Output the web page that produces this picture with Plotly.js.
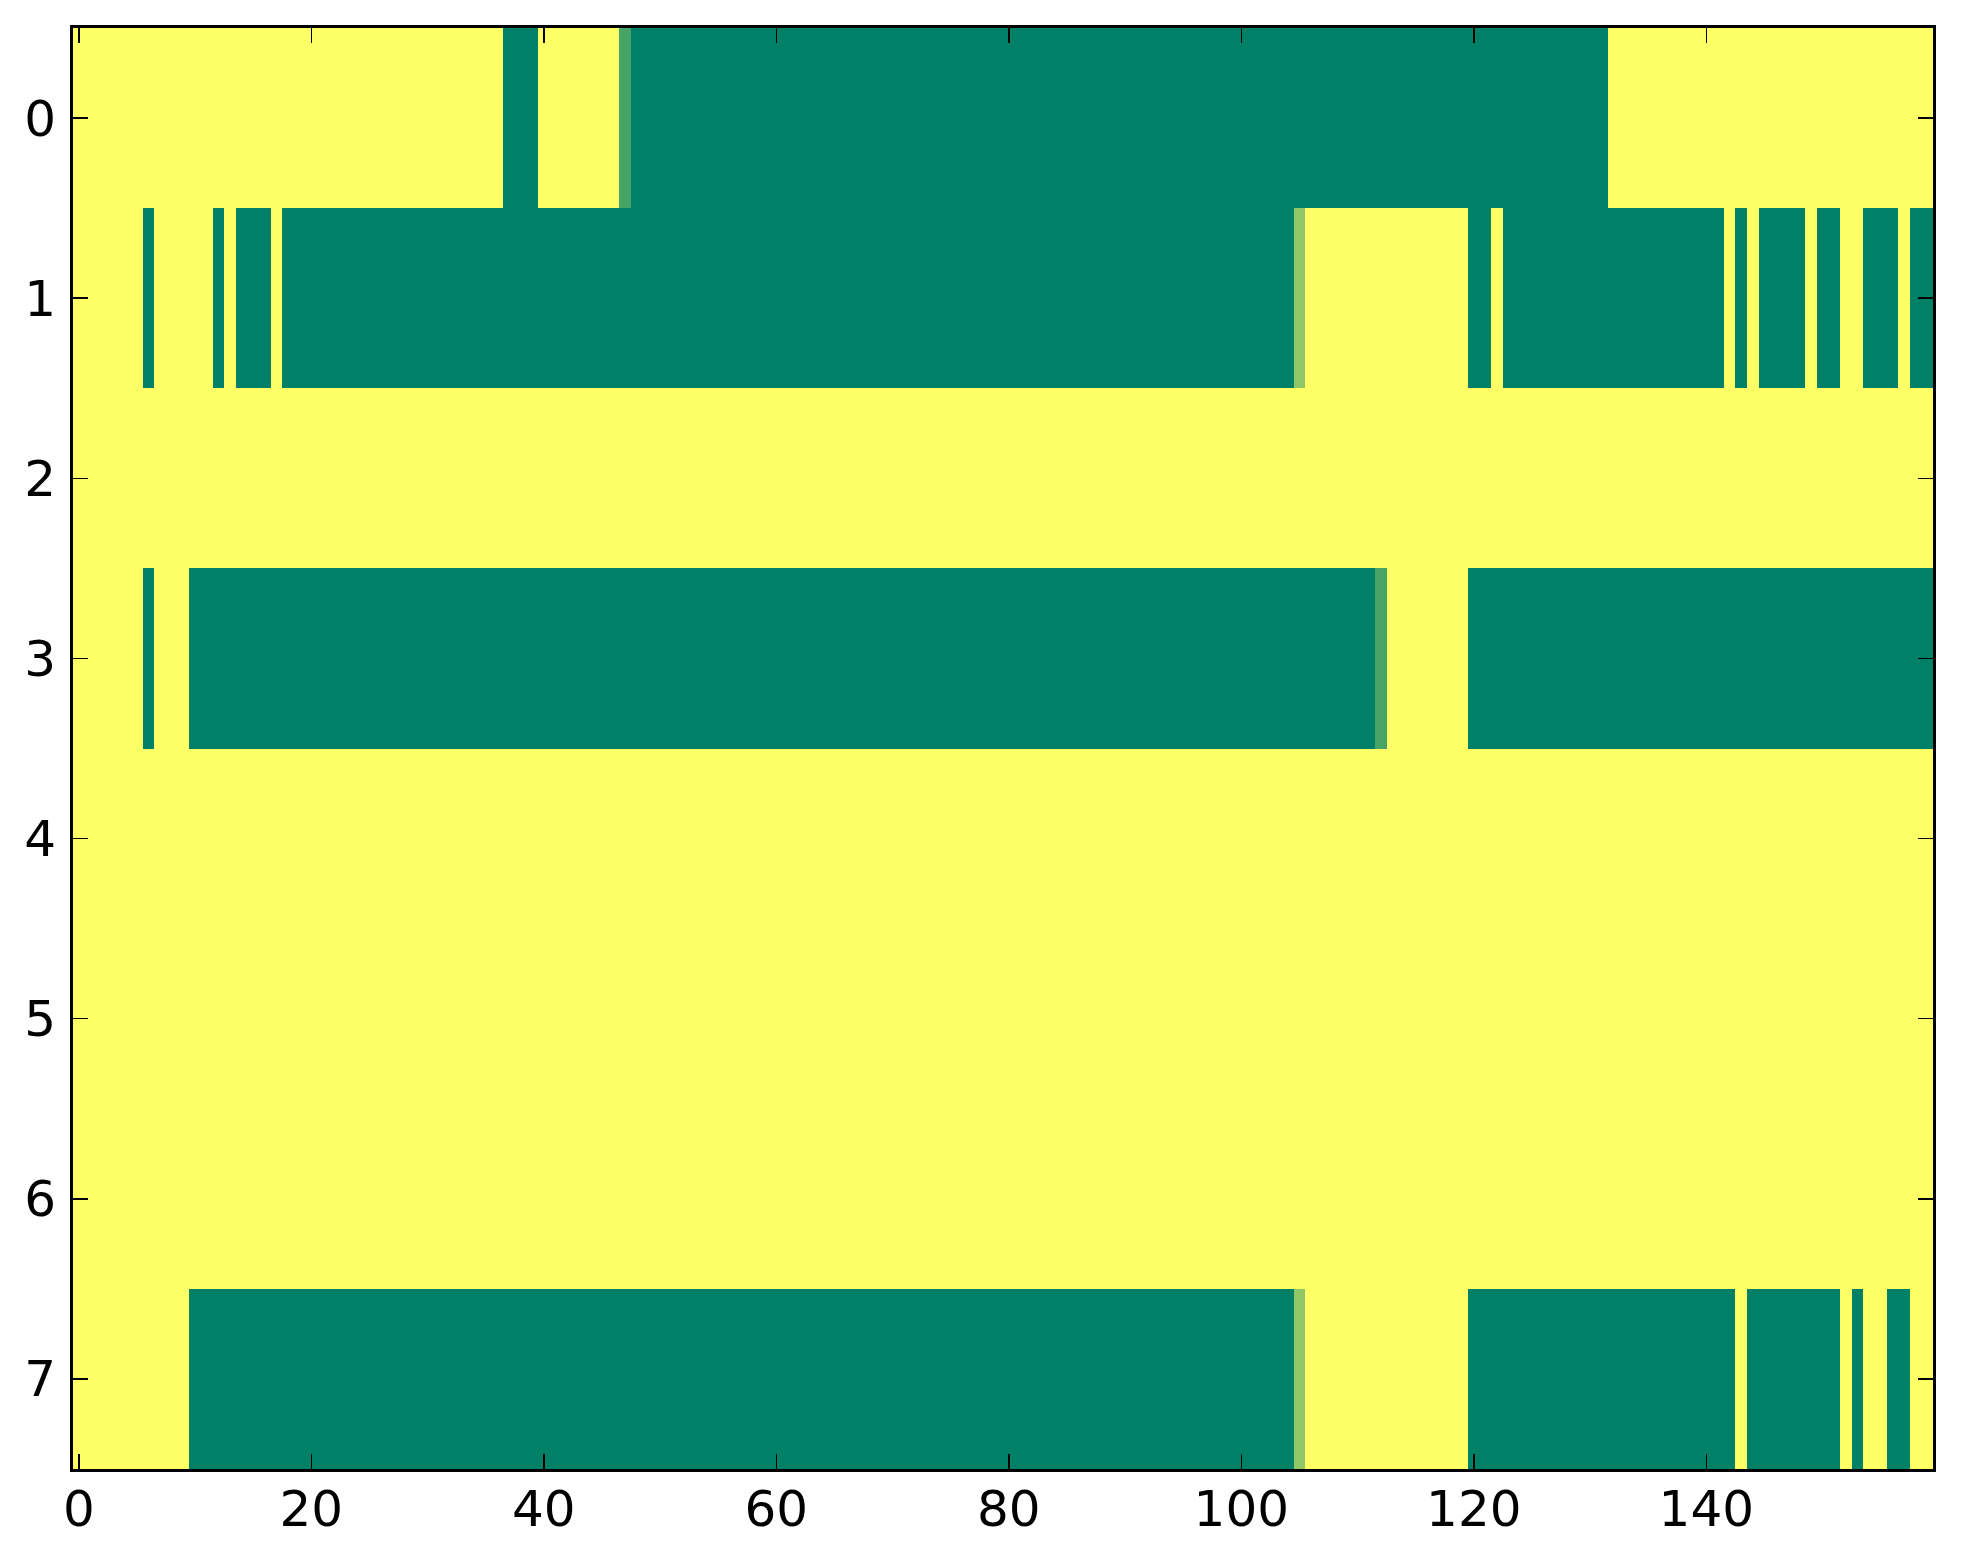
<!DOCTYPE html>
<html>
<head>
<meta charset="utf-8">
<script src="https://cdn.plot.ly/plotly-3.0.1.min.js"></script>
<style>
  html, body { margin: 0; padding: 0; background: #ffffff; }
  #chart { width: 1963px; height: 1564px; }
</style>
</head>
<body>
<div id="chart"></div>
<script>
// Column indices (0..159) and row indices (0..7)
const columns = [
  0,1,2,3,4,5,6,7,8,9,10,11,12,13,14,15,16,17,18,19,
  20,21,22,23,24,25,26,27,28,29,30,31,32,33,34,35,36,37,38,39,
  40,41,42,43,44,45,46,47,48,49,50,51,52,53,54,55,56,57,58,59,
  60,61,62,63,64,65,66,67,68,69,70,71,72,73,74,75,76,77,78,79,
  80,81,82,83,84,85,86,87,88,89,90,91,92,93,94,95,96,97,98,99,
  100,101,102,103,104,105,106,107,108,109,110,111,112,113,114,115,116,117,118,119,
  120,121,122,123,124,125,126,127,128,129,130,131,132,133,134,135,136,137,138,139,
  140,141,142,143,144,145,146,147,148,149,150,151,152,153,154,155,156,157,158,159
];
const rowLabels = [0,1,2,3,4,5,6,7];

// Cell values per row (20 values per line)
const row0 = [
  1,1,1,1,1,1,1,1,1,1,1,1,1,1,1,1,1,1,1,1,
  1,1,1,1,1,1,1,1,1,1,1,1,1,1,1,1,1,0,0,0,
  1,1,1,1,1,1,1,0.28,0,0,0,0,0,0,0,0,0,0,0,0,
  0,0,0,0,0,0,0,0,0,0,0,0,0,0,0,0,0,0,0,0,
  0,0,0,0,0,0,0,0,0,0,0,0,0,0,0,0,0,0,0,0,
  0,0,0,0,0,0,0,0,0,0,0,0,0,0,0,0,0,0,0,0,
  0,0,0,0,0,0,0,0,0,0,0,0,1,1,1,1,1,1,1,1,
  1,1,1,1,1,1,1,1,1,1,1,1,1,1,1,1,1,1,1,1
];
const row1 = [
  1,1,1,1,1,1,0,1,1,1,1,1,0,1,0,0,0,1,0,0,
  0,0,0,0,0,0,0,0,0,0,0,0,0,0,0,0,0,0,0,0,
  0,0,0,0,0,0,0,0,0,0,0,0,0,0,0,0,0,0,0,0,
  0,0,0,0,0,0,0,0,0,0,0,0,0,0,0,0,0,0,0,0,
  0,0,0,0,0,0,0,0,0,0,0,0,0,0,0,0,0,0,0,0,
  0,0,0,0,0,0.56,1,1,1,1,1,1,1,1,1,1,1,1,1,1,
  0,0,1,0,0,0,0,0,0,0,0,0,0,0,0,0,0,0,0,0,
  0,0,1,0,1,0,0,0,0,1,0,0,1,1,0,0,0,1,0,0
];
const row2 = [
  1,1,1,1,1,1,1,1,1,1,1,1,1,1,1,1,1,1,1,1,
  1,1,1,1,1,1,1,1,1,1,1,1,1,1,1,1,1,1,1,1,
  1,1,1,1,1,1,1,1,1,1,1,1,1,1,1,1,1,1,1,1,
  1,1,1,1,1,1,1,1,1,1,1,1,1,1,1,1,1,1,1,1,
  1,1,1,1,1,1,1,1,1,1,1,1,1,1,1,1,1,1,1,1,
  1,1,1,1,1,1,1,1,1,1,1,1,1,1,1,1,1,1,1,1,
  1,1,1,1,1,1,1,1,1,1,1,1,1,1,1,1,1,1,1,1,
  1,1,1,1,1,1,1,1,1,1,1,1,1,1,1,1,1,1,1,1
];
const row3 = [
  1,1,1,1,1,1,0,1,1,1,0,0,0,0,0,0,0,0,0,0,
  0,0,0,0,0,0,0,0,0,0,0,0,0,0,0,0,0,0,0,0,
  0,0,0,0,0,0,0,0,0,0,0,0,0,0,0,0,0,0,0,0,
  0,0,0,0,0,0,0,0,0,0,0,0,0,0,0,0,0,0,0,0,
  0,0,0,0,0,0,0,0,0,0,0,0,0,0,0,0,0,0,0,0,
  0,0,0,0,0,0,0,0,0,0,0,0,0.28,1,1,1,1,1,1,1,
  0,0,0,0,0,0,0,0,0,0,0,0,0,0,0,0,0,0,0,0,
  0,0,0,0,0,0,0,0,0,0,0,0,0,0,0,0,0,0,0,0
];
const row4 = [
  1,1,1,1,1,1,1,1,1,1,1,1,1,1,1,1,1,1,1,1,
  1,1,1,1,1,1,1,1,1,1,1,1,1,1,1,1,1,1,1,1,
  1,1,1,1,1,1,1,1,1,1,1,1,1,1,1,1,1,1,1,1,
  1,1,1,1,1,1,1,1,1,1,1,1,1,1,1,1,1,1,1,1,
  1,1,1,1,1,1,1,1,1,1,1,1,1,1,1,1,1,1,1,1,
  1,1,1,1,1,1,1,1,1,1,1,1,1,1,1,1,1,1,1,1,
  1,1,1,1,1,1,1,1,1,1,1,1,1,1,1,1,1,1,1,1,
  1,1,1,1,1,1,1,1,1,1,1,1,1,1,1,1,1,1,1,1
];
const row5 = [
  1,1,1,1,1,1,1,1,1,1,1,1,1,1,1,1,1,1,1,1,
  1,1,1,1,1,1,1,1,1,1,1,1,1,1,1,1,1,1,1,1,
  1,1,1,1,1,1,1,1,1,1,1,1,1,1,1,1,1,1,1,1,
  1,1,1,1,1,1,1,1,1,1,1,1,1,1,1,1,1,1,1,1,
  1,1,1,1,1,1,1,1,1,1,1,1,1,1,1,1,1,1,1,1,
  1,1,1,1,1,1,1,1,1,1,1,1,1,1,1,1,1,1,1,1,
  1,1,1,1,1,1,1,1,1,1,1,1,1,1,1,1,1,1,1,1,
  1,1,1,1,1,1,1,1,1,1,1,1,1,1,1,1,1,1,1,1
];
const row6 = [
  1,1,1,1,1,1,1,1,1,1,1,1,1,1,1,1,1,1,1,1,
  1,1,1,1,1,1,1,1,1,1,1,1,1,1,1,1,1,1,1,1,
  1,1,1,1,1,1,1,1,1,1,1,1,1,1,1,1,1,1,1,1,
  1,1,1,1,1,1,1,1,1,1,1,1,1,1,1,1,1,1,1,1,
  1,1,1,1,1,1,1,1,1,1,1,1,1,1,1,1,1,1,1,1,
  1,1,1,1,1,1,1,1,1,1,1,1,1,1,1,1,1,1,1,1,
  1,1,1,1,1,1,1,1,1,1,1,1,1,1,1,1,1,1,1,1,
  1,1,1,1,1,1,1,1,1,1,1,1,1,1,1,1,1,1,1,1
];
const row7 = [
  1,1,1,1,1,1,1,1,1,1,0,0,0,0,0,0,0,0,0,0,
  0,0,0,0,0,0,0,0,0,0,0,0,0,0,0,0,0,0,0,0,
  0,0,0,0,0,0,0,0,0,0,0,0,0,0,0,0,0,0,0,0,
  0,0,0,0,0,0,0,0,0,0,0,0,0,0,0,0,0,0,0,0,
  0,0,0,0,0,0,0,0,0,0,0,0,0,0,0,0,0,0,0,0,
  0,0,0,0,0,0.56,1,1,1,1,1,1,1,1,1,1,1,1,1,1,
  0,0,0,0,0,0,0,0,0,0,0,0,0,0,0,0,0,0,0,0,
  0,0,0,1,0,0,0,0,0,0,0,0,1,0,1,1,0,0,1,1
];

const xTickVals = [0, 20, 40, 60, 80, 100, 120, 140];
const xTickText = ["0", "20", "40", "60", "80", "100", "120", "140"];
const yTickVals = [0, 1, 2, 3, 4, 5, 6, 7];
const yTickText = ["0", "1", "2", "3", "4", "5", "6", "7"];

// matplotlib "summer" colormap end points
const summerScale = [[0, "rgb(0,128,102)"], [1, "rgb(255,255,102)"]];

const zRows = [row0, row1, row2, row3, row4, row5, row6, row7];

const trace = {
  type: "heatmap",
  x: columns,
  y: rowLabels,
  z: zRows,
  zmin: 0,
  zmax: 1,
  colorscale: summerScale,
  showscale: false,
  hoverinfo: "skip"
};

const axisCommon = {
  showline: true,
  linecolor: "#000000",
  linewidth: 3,
  mirror: "ticks",
  ticks: "inside",
  ticklen: 15,
  tickwidth: 1.5,
  tickcolor: "#000000",
  showgrid: false,
  zeroline: false,
  tickfont: { family: "DejaVu Sans", size: 50, color: "#000000" }
};

const layout = {
  width: 1963,
  height: 1564,
  margin: { l: 73, r: 30, t: 28, b: 95, pad: 0 },
  paper_bgcolor: "#ffffff",
  plot_bgcolor: "#ffffff",
  showlegend: false,
  xaxis: Object.assign({}, axisCommon, {
    range: [-0.5, 159.5],
    tickmode: "array",
    tickvals: xTickVals,
    ticktext: xTickText,
    ticklabelstandoff: -6
  }),
  yaxis: Object.assign({}, axisCommon, {
    range: [7.5, -0.5],
    tickmode: "array",
    tickvals: yTickVals,
    ticktext: yTickText,
    ticklabelstandoff: 4
  })
};

Plotly.newPlot("chart", [trace], layout, { staticPlot: true, displayModeBar: false });
</script>
</body>
</html>
